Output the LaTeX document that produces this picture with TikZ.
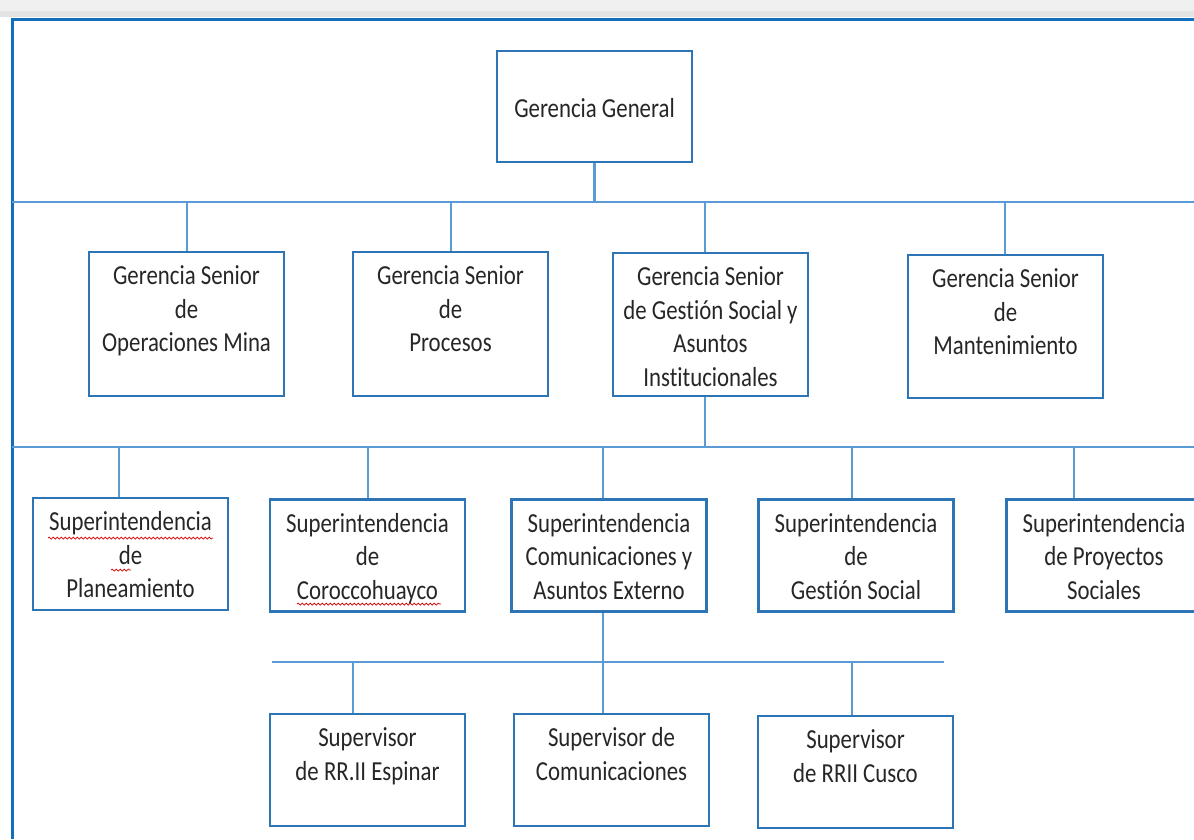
\documentclass[tikz,border=0pt]{standalone}
\usepackage{fontspec}
\setmainfont{Carlito}[FakeStretch=0.83,Ligatures=NoCommon]
\usetikzlibrary{decorations.pathmorphing}
\definecolor{boxc}{RGB}{46,117,182}
\definecolor{linec}{RGB}{91,155,213}
\definecolor{framec}{RGB}{20,110,190}
\newcommand\fstrut{\rule{0pt}{20pt}}
\begin{document}
\begin{tikzpicture}[x=1pt,y=-1pt,
  box/.style={draw=boxc,line width=2.6pt,inner sep=0pt,minimum width=195pt},
  txt/.style={font=\fontsize{27.5}{33.5}\selectfont,text=black!85,align=center,inner sep=0pt,anchor=north,yshift=-14pt},
  conn/.style={draw=linec,line width=2.4pt},
  wavy/.style={draw=red!85!black,line width=0.7pt,decorate,decoration={snake,segment length=4pt,amplitude=1pt}}]
\useasboundingbox (0,0) rectangle (1194,839);
\fill[gray!12] (0,0) rectangle (1194,11);
\fill[gray!22] (0,11) rectangle (1194,17);
% frame
\coordinate (fbl) at (12,839);
\coordinate (ftl) at (12,19);
\coordinate (ftr) at (1194,19);
\draw[draw=framec,line width=3pt] (fbl) -- (ftl) -- (ftr);
% buses
\coordinate (b1l) at (12,202); \coordinate (b1r) at (1194,202);
\coordinate (b2l) at (12,447); \coordinate (b2r) at (1194,447);
\coordinate (b3l) at (272,662); \coordinate (b3r) at (944,662);
% level 1
\node[box,minimum height=111pt] (gg) at (594.5,106.5) {};
\node[font=\fontsize{27.5}{33.5}\selectfont,text=black!85,inner sep=0pt] (ggt) at (594.5,108) {Gerencia General};
% level 2
\node[box,minimum height=144pt] (s1) at (186.5,324) {};
\node[box,minimum height=144pt] (s2) at (450.5,324) {};
\node[box,minimum height=143pt] (s3) at (710.5,324.5) {};
\node[box,minimum height=143pt] (s4) at (1005.5,326.5) {};
\node[txt] (s1t) at (s1.north) {\fstrut Gerencia Senior\\de\\Operaciones Mina};
\node[txt] (s2t) at (s2.north) {\fstrut Gerencia Senior\\de\\Procesos};
\node[txt] (s3t) at (s3.north) {\fstrut Gerencia Senior\\de Gestión Social y\\Asuntos\\Institucionales};
\node[txt] (s4t) at (s4.north) {\fstrut Gerencia Senior\\de\\Mantenimiento};
% level 3
\node[box,minimum height=112pt] (p1) at (130.5,554) {};
\node[box,minimum height=112pt] (p2) at (367.5,555.5) {};
\node[box,minimum height=112pt] (p3) at (609,555.5) {};
\node[box,minimum height=112pt] (p4) at (856,555.5) {};
\node[box,minimum height=112pt] (p5) at (1104,555.5) {};
\node[txt] (p1t) at (p1.north) {\fstrut Superintendencia\\de\\Planeamiento};
\node[txt] (p2t) at (p2.north) {\fstrut Superintendencia\\de\\Coroccohuayco};
\node[txt] (p3t) at (p3.north) {\fstrut Superintendencia\\Comunicaciones y\\Asuntos Externo};
\node[txt] (p4t) at (p4.north) {\fstrut Superintendencia\\de\\Gestión Social};
\node[txt] (p5t) at (p5.north) {\fstrut Superintendencia\\de Proyectos\\Sociales};
% level 4
\node[box,minimum height=112pt] (c1) at (367.5,770) {};
\node[box,minimum height=112pt] (c2) at (611.5,770) {};
\node[box,minimum height=112pt] (c3) at (855.5,772) {};
\node[txt] (c1t) at (c1.north) {\fstrut Supervisor\\de RR.II Espinar};
\node[txt] (c2t) at (c2.north) {\fstrut Supervisor de\\Comunicaciones};
\node[txt] (c3t) at (c3.north) {\fstrut Supervisor\\de RRII Cusco};
% connectors
\draw[conn] (b1l) -- (b1r);
\draw[conn] (gg.south) -- (gg.south |- b1l);
\draw[conn] ([xshift=0.5pt]s1.north) -- ([xshift=0.5pt]s1.north |- b1l);
\draw[conn] ([xshift=0.5pt]s2.north) -- ([xshift=0.5pt]s2.north |- b1l);
\draw[conn] ([xshift=-5.5pt]s3.north) -- ([xshift=-5.5pt]s3.north |- b1l);
\draw[conn] ([xshift=-0.5pt]s4.north) -- ([xshift=-0.5pt]s4.north |- b1l);
\draw[conn] (b2l) -- (b2r);
\draw[conn] ([xshift=-5.5pt]s3.south) -- ([xshift=-5.5pt]s3.south |- b2l);
\draw[conn] ([xshift=-11.5pt]p1.north) -- ([xshift=-11.5pt]p1.north |- b2l);
\draw[conn] ([xshift=0.5pt]p2.north) -- ([xshift=0.5pt]p2.north |- b2l);
\draw[conn] ([xshift=-6pt]p3.north) -- ([xshift=-6pt]p3.north |- b2l);
\draw[conn] ([xshift=-4pt]p4.north) -- ([xshift=-4pt]p4.north |- b2l);
\draw[conn] ([xshift=-30pt]p5.north) -- ([xshift=-30pt]p5.north |- b2l);
\draw[conn] (b3l) -- (b3r);
\draw[conn] ([xshift=-6pt]p3.south) -- ([xshift=-6pt]p3.south |- b3l);
\draw[conn] ([xshift=-14.5pt]c1.north) -- ([xshift=-14.5pt]c1.north |- b3l);
\draw[conn] ([xshift=-8.5pt]c2.north) -- ([xshift=-8.5pt]c2.north |- b3l);
\draw[conn] ([xshift=-3.5pt]c3.north) -- ([xshift=-3.5pt]c3.north |- b3l);
% spell-check underlines
\draw[wavy] (48,538) -- (213,538);
\draw[wavy] (111,570) -- (131,570);
\draw[wavy] (297,604) -- (441,604);
\end{tikzpicture}
\end{document}
